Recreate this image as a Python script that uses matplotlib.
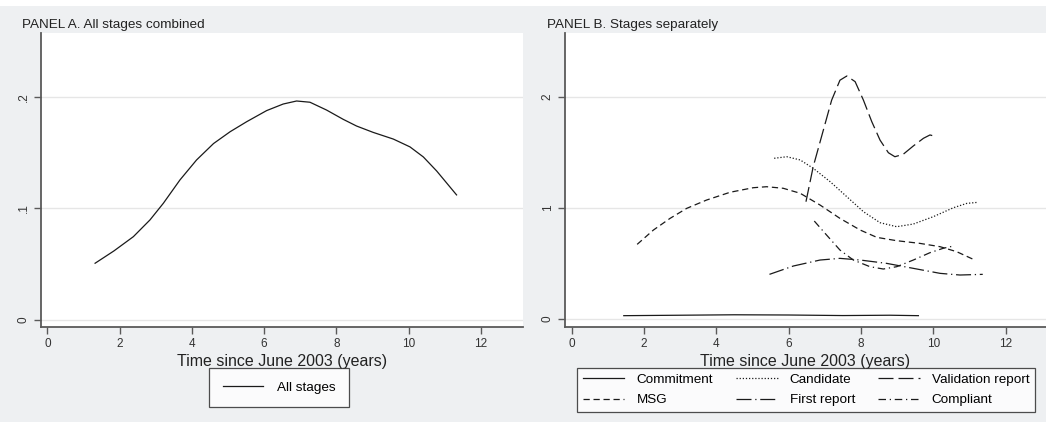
import matplotlib.pyplot as plt
import matplotlib.patches as mpatches

plt.rcParams['font.family'] = ['Liberation Sans', 'DejaVu Sans']

# Panel A: all stages combined
all_x = [1.32, 1.84, 2.38, 2.84, 3.21, 3.67, 4.13, 4.60, 5.06, 5.52, 6.07, 6.53,
         6.90, 7.27, 7.73, 8.19, 8.56, 9.02, 9.58, 10.04, 10.41, 10.78, 11.33]
all_y = [0.0508, 0.0618, 0.0746, 0.0896, 0.1045, 0.1254, 0.1433, 0.158, 0.1686, 0.1776, 0.1875, 0.1934,
         0.1961, 0.195, 0.188, 0.1797, 0.1737, 0.168, 0.162, 0.155, 0.146, 0.1334, 0.112]

# Panel B: stages separately
commit_x = [1.44, 3.0, 4.5, 6.0, 7.5, 8.8, 9.59]
commit_y = [0.030, 0.034, 0.038, 0.036, 0.031, 0.034, 0.030]

msg_x = [1.81, 2.26, 2.72, 3.18, 3.73, 4.38, 5.02, 5.39, 5.85, 6.32, 6.87, 7.42, 7.98, 8.44,
         8.99, 9.63, 10.19, 10.65, 11.11]
msg_y = [0.672, 0.801, 0.906, 0.996, 1.071, 1.141, 1.182, 1.191, 1.177, 1.132, 1.026, 0.906, 0.801, 0.735,
         0.705, 0.681, 0.651, 0.606, 0.537]

cand_x = [5.60, 5.95, 6.32, 6.68, 7.15, 7.61, 8.07, 8.53, 8.99, 9.45, 10.00, 10.56, 10.93, 11.22]
cand_y = [1.447, 1.461, 1.432, 1.357, 1.236, 1.101, 0.966, 0.867, 0.831, 0.855, 0.921, 1.002, 1.041, 1.050]

first_x = [5.47, 6.13, 6.87, 7.42, 7.98, 8.71, 9.45, 10.19, 10.74, 11.37]
first_y = [0.402, 0.477, 0.531, 0.546, 0.531, 0.501, 0.456, 0.411, 0.396, 0.402]

valid_x = [6.48, 6.68, 6.96, 7.19, 7.42, 7.61, 7.84, 8.07, 8.30, 8.53, 8.76, 8.94, 9.17, 9.45,
           9.73, 9.91, 10.10]
valid_y = [1.056, 1.371, 1.70, 1.97, 2.15, 2.188, 2.137, 1.97, 1.777, 1.61, 1.497, 1.461, 1.483, 1.558,
           1.627, 1.657, 1.641]

compl_x = [6.71, 7.05, 7.42, 7.79, 8.25, 8.62, 8.99, 9.45, 9.91, 10.28, 10.56]
compl_y = [0.882, 0.756, 0.621, 0.531, 0.471, 0.450, 0.471, 0.531, 0.597, 0.637, 0.657]

W, H = 1046, 422
bg = '#eef0f2'
axis_col = '#5a5a5a'
line_col = '#1a1a1a'

fig = plt.figure(figsize=(W / 100, H / 100), dpi=100, facecolor=bg)
# thin white strip at the very top
fig.patches.append(mpatches.Rectangle((0, 1 - 6 / H), 1, 6 / H, transform=fig.transFigure,
                                      facecolor='white', edgecolor='none', zorder=0))


def px_axes(left, right, top, bottom):
    return fig.add_axes([left / W, 1 - bottom / H, (right - left) / W, (bottom - top) / H])


def style(ax, yticks, ylabels, ylim, xlim):
    ax.set_facecolor('white')
    for s in ['top', 'right']:
        ax.spines[s].set_visible(False)
    for s in ['left', 'bottom']:
        ax.spines[s].set_color(axis_col)
        ax.spines[s].set_linewidth(1.3)
    ax.set_xlim(*xlim)
    ax.set_ylim(*ylim)
    ax.set_xticks(range(0, 13, 2))
    ax.set_yticks(yticks)
    ax.set_yticklabels(ylabels, rotation=90, va='center')
    ax.tick_params(axis='both', colors=axis_col, labelcolor='#333333', labelsize=8.5,
                   length=5, width=1.0, pad=3)
    ax.grid(axis='y', color='#e6e6e6', linewidth=1.0)
    ax.set_axisbelow(True)
    ax.set_xlabel('Time since June 2003 (years)', fontsize=11.5, color='#222222', labelpad=3)


axA = px_axes(41, 523, 33, 327)
style(axA, [0, 0.1, 0.2], ['0', '.1', '.2'], (-0.0063, 0.257), (-0.178, 13.17))
axA.plot(all_x, all_y, color=line_col, lw=0.9, label='All stages')
fig.text(22 / W, 1 - 25 / H, 'PANEL A. All stages combined', fontsize=9.7, color='#222222', va='center')

axB = px_axes(565, 1046, 33, 327)
style(axB, [0, 1, 2], ['0', '1', '2'], (-0.072, 2.575), (-0.186, 13.12))
axB.plot(commit_x, commit_y, color=line_col, lw=0.9, ls='-', label='Commitment')
axB.plot(msg_x, msg_y, color=line_col, lw=0.9, ls=(0, (5, 3)), label='MSG')
axB.plot(cand_x, cand_y, color=line_col, lw=0.9, ls=(0, (1, 1.5)), label='Candidate')
axB.plot(first_x, first_y, color=line_col, lw=0.9, ls=(0, (12, 3, 1, 3)), label='First report')
axB.plot(valid_x, valid_y, color=line_col, lw=0.9, ls=(0, (12, 4)), label='Validation report')
axB.plot(compl_x, compl_y, color=line_col, lw=0.9, ls=(0, (6, 3, 1, 3)), label='Compliant')
fig.text(547 / W, 1 - 25 / H, 'PANEL B. Stages separately', fontsize=9.7, color='#222222', va='center')

legA = axA.legend(loc='upper center', bbox_to_anchor=(279 / W, 1 - 368 / H), bbox_transform=fig.transFigure,
                  fontsize=9.7, frameon=True, fancybox=False, edgecolor='#222222', facecolor='white',
                  handlelength=3.0, handletextpad=1.0, borderpad=1.0, borderaxespad=0)
legA.get_frame().set_linewidth(0.9)

handles, labels = axB.get_legend_handles_labels()
legB = axB.legend(handles, labels, loc='upper center', ncol=3,
                  bbox_to_anchor=(806 / W, 1 - 368 / H), bbox_transform=fig.transFigure,
                  fontsize=9.7, frameon=True, fancybox=False, edgecolor='#222222', facecolor='white',
                  handlelength=3.1, handletextpad=0.9, columnspacing=1.7, labelspacing=0.6,
                  borderpad=0.4, borderaxespad=0)
legB.get_frame().set_linewidth(0.9)

fig.savefig('out.png', dpi=100, facecolor=bg)
